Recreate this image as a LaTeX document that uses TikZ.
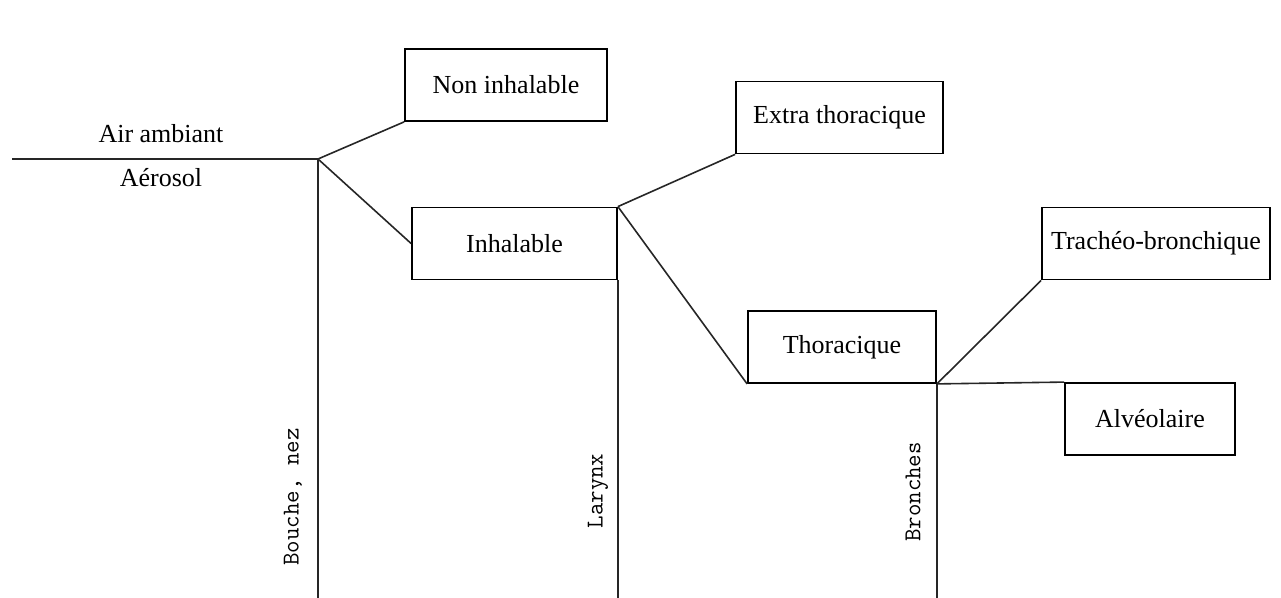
\documentclass[tikz,border=0pt]{standalone}
\usepackage{fontspec}
\setmainfont{Liberation Serif}
\setmonofont{Latin Modern Mono}
\usetikzlibrary{calc}

\begin{document}
\begin{tikzpicture}[x=0.5pt,y=-0.5pt,
    zone/.style={draw,line width=0.9pt,minimum height=36pt,inner sep=0pt,font=\fontsize{13}{15}\selectfont},
    voie/.style={rotate=90,inner sep=0pt,font=\ttfamily\fontsize{12.1}{14}\selectfont},
    tube/.style={line width=0.8pt,black!85}]
    \useasboundingbox (0,0) rectangle (1281,598);
    \node[zone,minimum width=101pt] (noninh) at (506,85) {Non inhalable};
    \node[zone,minimum width=103.5pt] (extra) at (839.5,117.5) {Extra thoracique};
    \node[zone,minimum width=102.5pt] (inh) at (514.5,243.5) {Inhalable};
    \node[zone,minimum width=94pt] (thor) at (842,347) {Thoracique};
    \node[zone,minimum width=114pt] (trach) at (1156,243.5) {Trachéo-bronchique};
    \node[zone,minimum width=85pt] (alv) at (1150,419) {Alvéolaire};
    \node[font=\fontsize{13}{15}\selectfont] (air) at (161,134) {Air ambiant};
    \node[font=\fontsize{13}{15}\selectfont] (aero) at (161,178) {Aérosol};
    \node[voie] (bouche) at (293,497) {Bouche, nez};
    \node[voie] (larynx) at (598,491) {Larynx};
    \node[voie] (bronches) at (913,492) {Bronches};
    \coordinate (gauche) at (12,159);
    \coordinate (nez) at (318,159);
    \coordinate (bas) at (0,598);
    \draw[tube] (gauche) -- (nez) -- (nez |- bas);
    \draw[tube] (nez) -- (noninh.south west);
    \draw[tube] (nez) -- (inh.west);
    \draw[tube] (inh.north east) -- (extra.south west);
    \draw[tube] (inh.north east) -- (thor.south west);
    \draw[tube] (inh.south east) -- (inh.south east |- bas);
    \draw[tube] (thor.south east) -- (trach.south west);
    \draw[tube] (thor.south east) -- (alv.north west);
    \draw[tube] (thor.south east) -- (thor.south east |- bas);
\end{tikzpicture}
\end{document}
